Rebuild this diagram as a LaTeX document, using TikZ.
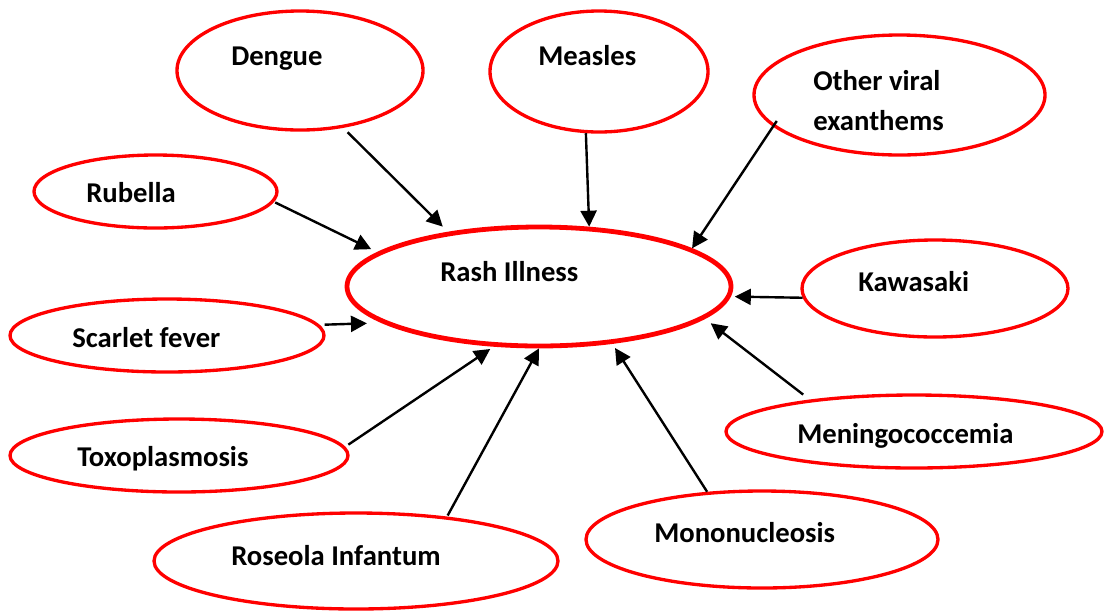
\documentclass[tikz,border=0pt]{standalone}
\usepackage{fontspec}
\setmainfont{Carlito}
\usetikzlibrary{shapes.geometric,arrows.meta}
\begin{document}
\begin{tikzpicture}[x=0.75pt,y=-0.75pt,
  bubble/.style={ellipse,draw=red,line width=2.5pt,inner sep=0pt},
  centre/.style={bubble,line width=3.6pt},
  caption/.style={anchor=base west,inner sep=0pt,font=\fontsize{21.5}{25}\selectfont\bfseries},
  link/.style={line width=1.8pt,-{Triangle[length=12pt,width=12pt]}}]
\useasboundingbox (0,0) rectangle (1117,612);

% ellipses
\node[centre,minimum width=288pt,minimum height=89.25pt] (rash) at (539,286.5) {};
\node[bubble,minimum width=184.5pt,minimum height=89.25pt] (dengue) at (300,70.5) {};
\node[bubble,minimum width=163.5pt,minimum height=90.75pt] (measles) at (599,71.5) {};
\node[bubble,minimum width=218.25pt,minimum height=90pt] (otherviral) at (899.5,95) {};
\node[bubble,minimum width=182.25pt,minimum height=54.75pt] (rubella) at (155.5,191.5) {};
\node[bubble,minimum width=199.5pt,minimum height=72.75pt] (kawasaki) at (935,288.5) {};
\node[bubble,minimum width=235.5pt,minimum height=54.75pt] (scarlet) at (167,335.5) {};
\node[bubble,minimum width=282pt,minimum height=54.75pt] (meningo) at (914,431.5) {};
\node[bubble,minimum width=253.5pt,minimum height=54.75pt] (toxo) at (179,455.5) {};
\node[bubble,minimum width=264pt,minimum height=72.75pt] (mono) at (762,539.5) {};
\node[bubble,minimum width=303pt,minimum height=72pt] (roseola) at (356,561) {};

% labels
\node[caption] (tRash) at (440,281.7) {Rash Illness};
\node[caption] (tDengue) at (231,65) {Dengue};
\node[caption] (tMeasles) at (538,65) {Measles};
\node[caption] (tOther) at (813,90) {Other viral};
\node[caption] (tExanth) at (813,130) {exanthems};
\node[caption] (tRubella) at (86,202) {Rubella};
\node[caption] (tKawasaki) at (858,291) {Kawasaki};
\node[caption] (tScarlet) at (72,347) {Scarlet fever};
\node[caption] (tMeningo) at (797,443) {Meningococcemia};
\node[caption] (tToxo) at (77,466) {Toxoplasmosis};
\node[caption] (tRoseola) at (231,565) {Roseola Infantum};
\node[caption] (tMono) at (654,542) {Mononucleosis};

% arrows into the central ellipse
\draw[link,shorten <=4.6pt,shorten >=5.5pt] (dengue.-53.5) -- (rash.149.4);
\draw[link] (measles.258.7) -- (rash.50.2);
\draw[link,shorten <=-5pt] (otherviral.194) -- (rash.14.9);
\draw[link,shorten <=1pt,shorten >=5.1pt] (rubella.-5) -- (rash.168.6);
\draw[link,shorten >=3pt] (kawasaki.184.6) -- (rash.-3.8);
\draw[link,shorten <=4pt,shorten >=11pt] (scarlet.4.8) -- (rash.193.5);
\draw[link,shorten <=6.2pt,shorten >=5.5pt] (meningo.163.5) -- (rash.-11.6);
\draw[link,shorten >=3.7pt] (mono.139.6) -- (rash.-38.8);
\draw[link,shorten <=0.9pt] (roseola.26.9) -- (rash.-90);
\draw[link,shorten <=2.9pt,shorten >=3.1pt] (toxo.3.3) -- (rash.-127);
\end{tikzpicture}
\end{document}
